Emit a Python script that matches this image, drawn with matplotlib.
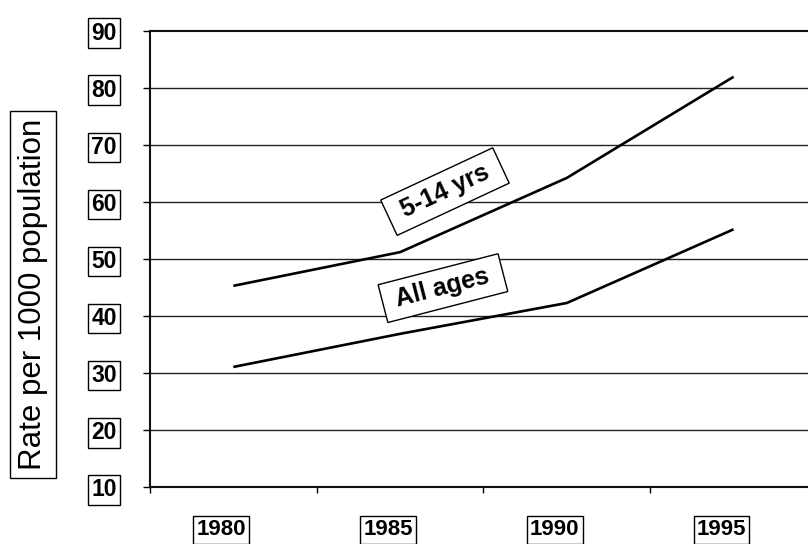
import numpy as np
import matplotlib
matplotlib.use("Agg")
import matplotlib.pyplot as plt
from matplotlib.transforms import ScaledTranslation

plt.rcParams['font.family'] = ['Liberation Sans', 'DejaVu Sans']

years = ["1980", "1985", "1990", "1995"]
rate_5_14 = [45.3, 51.2, 64.2, 81.9]
rate_all = [31.1, 36.9, 42.3, 55.2]
y_ticks = [10, 20, 30, 40, 50, 60, 70, 80, 90]

fig = plt.figure(figsize=(8.08, 5.44), dpi=100)
ax = fig.add_axes([0.1856, 0.1039, 0.8255, 0.840])

x = np.arange(len(years))
ax.plot(x, rate_5_14, color="black", lw=1.9, solid_capstyle="butt")
ax.plot(x, rate_all, color="black", lw=1.9, solid_capstyle="butt")

ax.set_xlim(-0.5, len(years) - 0.5)
ax.set_ylim(10, 90)

# horizontal gridlines
for v in y_ticks[1:-1]:
    ax.axhline(v, color="#222222", lw=1.0, zorder=0)

for s in ["left", "bottom", "top", "right"]:
    ax.spines[s].set_linewidth(1.5)
    ax.spines[s].set_color("#111111")

box = dict(boxstyle="square,pad=0.14", fc="none", ec="black", lw=1.0)

ax.set_yticks(y_ticks)
ax.set_yticklabels([str(v) for v in y_ticks], fontsize=16.5, fontweight="bold")
ax.tick_params(axis="y", direction="out", length=5, width=1.0, pad=19)
for lab in ax.get_yticklabels():
    lab.set_bbox(box)

ax.set_xticks(x)
ax.set_xticklabels(years, fontsize=16, fontweight="bold")
ax.set_xticks(np.arange(-0.5, len(years)), minor=True)
ax.tick_params(axis="x", which="major", length=0, pad=23)
ax.tick_params(axis="x", which="minor", direction="out", length=4, width=1.0)
shift = ScaledTranslation(-12 / 100, 0, fig.dpi_scale_trans)
for lab in ax.get_xticklabels():
    lab.set_bbox(box)
    lab.set_transform(lab.get_transform() + shift)

fig.text(0.041, 0.458, "Rate per 1000 population", rotation=90, fontsize=22.5,
         ha="center", va="center",
         bbox=dict(boxstyle="square,pad=0.25", fc="none", ec="black", lw=1.0))

ax.text(1.269, 61.8, " 5-14 yrs ", rotation=25, rotation_mode="anchor",
        ha="center", va="center", fontsize=18, fontweight="bold",
        bbox=dict(boxstyle="square,pad=0.3", fc="white", ec="black", lw=1.0))
ax.text(1.257, 44.9, " All ages ", rotation=14.5, rotation_mode="anchor",
        ha="center", va="center", fontsize=18, fontweight="bold",
        bbox=dict(boxstyle="square,pad=0.3", fc="white", ec="black", lw=1.0))

fig.savefig("out.png", dpi=100)
